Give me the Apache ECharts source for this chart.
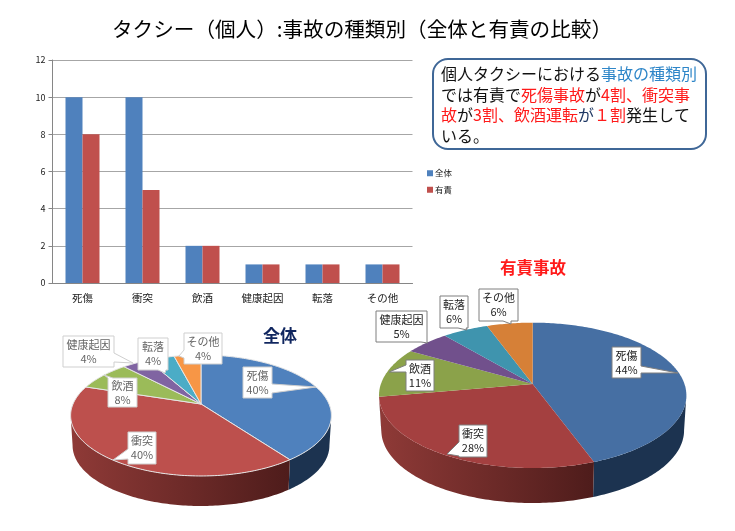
<!DOCTYPE html>
<html>
<head>
<meta charset="utf-8">
<style>
  html, body { margin: 0; background: #fff; }
  #chart { width: 735px; height: 531px; }
</style>
</head>
<body>
<div id="chart"></div>
<script src="https://cdn.jsdelivr.net/npm/echarts@6/dist/echarts.min.js"></script>
<script>
const categories = ['死傷', '衝突', '飲酒', '健康起因', '転落', 'その他']
const allCounts = [10, 10, 2, 1, 1, 1]
const liableCounts = [8, 5, 2, 1, 1, 1]
const yTicks = { min: 0, max: 12, interval: 2 }

// 円グラフの構成比(%)
const allShares = [40, 40, 8, 4, 4, 4]
const liableShares = [44.4, 27.8, 11.1, 5.5, 5.6, 5.6]
const allLabels = ['40%', '40%', '8%', '4%', '4%', '4%']
const liableLabels = ['44%', '28%', '11%', '5%', '6%', '6%']

const FONT = '"Noto Sans CJK JP", "Noto Sans", sans-serif'

// 3D風の円: cx,cy は中心、persp は手前ほど大きくする透視係数
const allPie = {
  cx: 201, cy: 404, r: 128, s: 58.3, persp: -0.19, depth: 30,
  colors: ['#4f81bd', '#bd504d', '#9bbb59', '#8064a2', '#4bacc6', '#f79646'],
  stroke: '#e6e6e6',
  boxBorder: '#cfcfcf', textColor: '#666',
  callouts: [
    { box: [243, 367, 29, 31], side: 'r', base: [384, 393], tip: [316, 387] },
    { box: [128, 432, 28, 32], side: 'l', base: [449, 459], tip: [113, 460] },
    { box: [108, 378, 29, 29], side: 't', base: [108, 113], tip: [104, 375] },
    { box: [63, 336, 51, 31], side: 'r', base: [353, 362], tip: [133, 363] },
    { box: [138, 338, 30, 32], side: 'b', base: [158, 166], tip: [165, 373] },
    { box: [184, 333, 38, 31], side: 'l', base: [350, 358], tip: [179, 356] },
  ],
}
const liablePie = {
  cx: 532.7, cy: 384, r: 151.8, s: 70.9, persp: -0.156, depth: 35,
  colors: ['#466fa3', '#a44040', '#8ba24a', '#71508c', '#3f94ae', '#d68037'],
  stroke: null,
  boxBorder: '#7f7f7f', textColor: '#222',
  callouts: [
    { box: [612, 347, 29, 31], side: 'r', base: [366, 373], tip: [678, 373] },
    { box: [459, 425, 28, 32], side: 'l', base: [442, 456], tip: [447, 454] },
    { box: [406, 360, 28, 31], side: 'l', base: [365, 372], tip: [389, 372] },
    { box: [376, 311, 51, 31], side: 'b', base: [421, 427], tip: [428, 343] },
    { box: [440, 296, 28, 32], side: 'b', base: [458, 466], tip: [467, 330] },
    { box: [479, 289, 39, 32], side: 'b', base: [503, 511], tip: [511, 324] },
  ],
}

function project(pie, deg, scale, dy) {
  const a = deg * Math.PI / 180
  const u = Math.sin(a)
  const w = -Math.cos(a)
  const d = 1 + pie.persp * w
  return [pie.cx + scale * pie.r * u / d, pie.cy + dy + pie.s * w / d]
}

function arc(pie, from, to, scale, dy) {
  const pts = []
  const n = Math.max(2, Math.ceil(to - from))
  for (let i = 0; i <= n; i++) {
    pts.push(project(pie, from + (to - from) * i / n, scale, dy))
  }
  return pts
}

function calloutPoints(c) {
  const [x, y, w, h] = c.box
  const [b1, b2] = c.base
  if (c.side === 'r') return [[x, y], [x + w, y], [x + w, b1], c.tip, [x + w, b2], [x + w, y + h], [x, y + h]]
  if (c.side === 'l') return [[x, y], [x + w, y], [x + w, y + h], [x, y + h], [x, b2], c.tip, [x, b1]]
  if (c.side === 't') return [[x, y], [b1, y], c.tip, [b2, y], [x + w, y], [x + w, y + h], [x, y + h]]
  return [[x, y], [x + w, y], [x + w, y + h], [b2, y + h], c.tip, [b1, y + h], [x, y + h]]
}

function wallFill(i) {
  if (i === 1) {
    return new echarts.graphic.LinearGradient(0, 0, 1, 0, [
      { offset: 0, color: '#8f3a37' },
      { offset: 1, color: '#4e1c1b' },
    ])
  }
  return '#1c3350'
}

function pieRenderer(pie, shares, labels) {
  const total = shares.reduce((a, b) => a + b, 0)
  // 側面が見えるのは円の左右の端より手前だけ
  const edge = Math.acos(pie.persp) * 180 / Math.PI
  return function (params, api) {
    const i = params.dataIndex
    const value = api.value(0)
    const before = shares.slice(0, i).reduce((a, b) => a + b, 0)
    const from = before / total * 360
    const to = from + value / total * 360
    const top = arc(pie, from, to, 1, 0)
    const wallFrom = Math.max(from, edge)
    const wallTo = Math.min(to, 360 - edge)
    const c = pie.callouts[i]
    const children = [
      {
        type: 'polygon',
        z2: 2,
        shape: { points: [[pie.cx, pie.cy]].concat(top) },
        style: {
          fill: pie.colors[i],
          stroke: pie.stroke,
          lineWidth: pie.stroke ? 1 : 0,
        },
      },
      {
        type: 'polygon',
        z2: 10,
        shape: { points: calloutPoints(c) },
        style: { fill: '#fff', stroke: pie.boxBorder, lineWidth: 1 },
      },
      {
        type: 'text',
        z2: 11,
        style: {
          text: categories[i] + '\n' + labels[i],
          x: c.box[0] + c.box[2] / 2,
          y: c.box[1] + c.box[3] / 2,
          align: 'center',
          verticalAlign: 'middle',
          fill: pie.textColor,
          fontSize: 11,
          lineHeight: 14,
          fontFamily: FONT,
        },
      },
    ]
    if (wallTo > wallFrom) {
      const rim = arc(pie, wallFrom, wallTo, 1, 0)
      const bottom = arc(pie, wallFrom, wallTo, 0.985, pie.depth).reverse()
      children.push({
        type: 'polygon',
        z2: 1,
        shape: { points: rim.concat(bottom) },
        style: { fill: wallFill(i) },
      })
    }
    return { type: 'group', children: children }
  }
}

const chart = echarts.init(document.getElementById('chart'))

chart.setOption({
  animation: false,
  backgroundColor: '#fff',
  textStyle: { fontFamily: FONT },
  title: [
    {
      text: 'タクシー（個人）:事故の種類別（全体と有責の比較）',
      left: 362, top: 19, textAlign: 'center', padding: 0,
      textStyle: { fontSize: 20.6, fontWeight: 'normal', color: '#000', fontFamily: FONT },
    },
    {
      text: '全体',
      left: 280, top: 327, textAlign: 'center', padding: 0,
      textStyle: { fontSize: 17, fontWeight: 'bold', color: '#10265f', fontFamily: FONT },
    },
    {
      text: '有責事故',
      left: 533, top: 259, textAlign: 'center', padding: 0,
      textStyle: { fontSize: 16.5, fontWeight: 'bold', color: '#ff1a1a', fontFamily: FONT },
    },
  ],
  legend: {
    data: ['全体', '有責'],
    orient: 'vertical',
    left: 422, top: 164,
    itemWidth: 6, itemHeight: 6, itemGap: 8,
    icon: 'rect',
    textStyle: { fontSize: 8.5, color: '#222', padding: [0, 0, 0, -3], fontFamily: FONT },
  },
  grid: { left: 52.5, top: 60, width: 360, height: 223 },
  xAxis: {
    type: 'category',
    data: categories,
    axisLine: { lineStyle: { color: '#868686' } },
    axisTick: { alignWithLabel: false, length: 4, lineStyle: { color: '#868686' } },
    axisLabel: { fontSize: 10.5, color: '#222', margin: 10, interval: 0, fontFamily: FONT },
  },
  yAxis: {
    type: 'value',
    min: yTicks.min, max: yTicks.max, interval: yTicks.interval,
    axisLine: { show: true, lineStyle: { color: '#868686' } },
    axisTick: { show: true, length: 4, lineStyle: { color: '#868686' } },
    axisLabel: { fontSize: 9, color: '#222', margin: 7, fontFamily: FONT },
    splitLine: { lineStyle: { color: '#a6a6a6' } },
  },
  series: [
    { name: '全体', type: 'bar', data: allCounts, barWidth: 17, barGap: 0, itemStyle: { color: '#4f81bd' }, silent: true },
    { name: '有責', type: 'bar', data: liableCounts, barWidth: 17, barGap: 0, itemStyle: { color: '#c0504d' }, silent: true },
    { name: '全体円', type: 'custom', coordinateSystem: 'none', silent: true, data: allShares, renderItem: pieRenderer(allPie, allShares, allLabels) },
    { name: '有責円', type: 'custom', coordinateSystem: 'none', silent: true, data: liableShares, renderItem: pieRenderer(liablePie, liableShares, liableLabels) },
  ],
  graphic: [
    {
      type: 'rect',
      shape: { x: 433, y: 59, width: 273, height: 90, r: 15 },
      style: { fill: '#fff', stroke: '#3f6797', lineWidth: 2 },
    },
    {
      type: 'text',
      left: 441, top: 66,
      style: {
        text: '{k|個人タクシーにおける}{b|事故の種類別}\n{k|では有責で}{r|死傷事故}{k|が}{r|4割、衝突事}\n{r|故}{k|が}{r|3割、飲酒運転}{n|が}{r|１割}{k|発生して}\n{k|いる。}',
        fontFamily: FONT,
        rich: {
          k: { fontSize: 16, lineHeight: 20.7, fill: '#111', fontFamily: FONT },
          b: { fontSize: 16, lineHeight: 20.7, fill: '#2e86c8', fontFamily: FONT },
          r: { fontSize: 16, lineHeight: 20.7, fill: '#ff1a1a', fontFamily: FONT },
          n: { fontSize: 16, lineHeight: 20.7, fill: '#1f3864', fontFamily: FONT },
        },
      },
    },
  ],
})
</script>
</body>
</html>
